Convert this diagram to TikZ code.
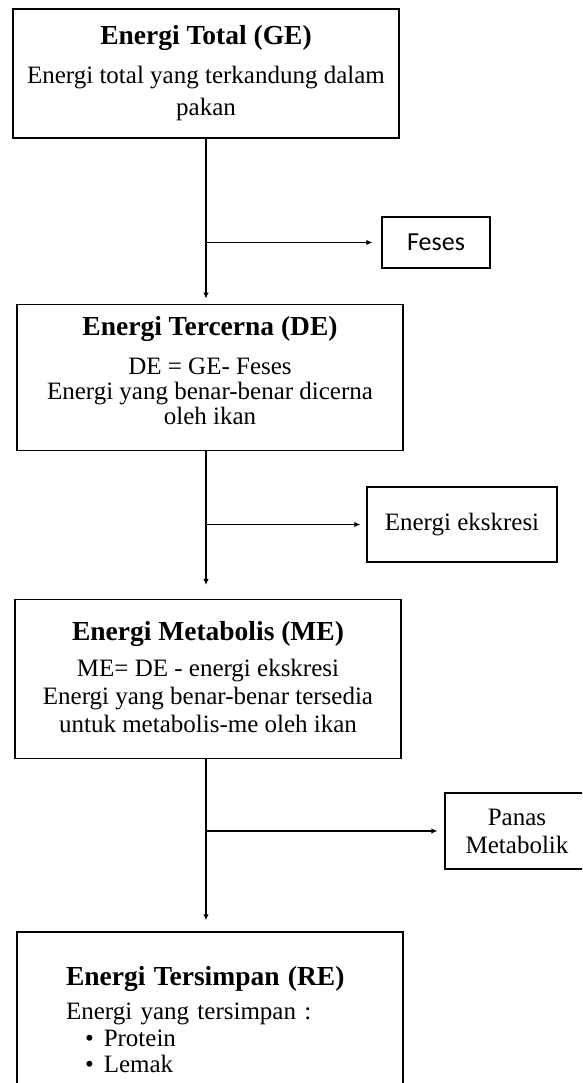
\documentclass[tikz,border=0pt]{standalone}
\usepackage{fontspec}
\setmainfont{Liberation Serif}
\newfontfamily\calibri{Carlito}
\usetikzlibrary{positioning,arrows.meta}

\tikzset{
  box/.style={rectangle, draw=black, line width=1.3pt, minimum width=386pt,
    align=center, font=\fontsize{25}{28}\selectfont},
  sidebox/.style={rectangle, draw=black, line width=1.3pt, align=center,
    font=\fontsize{25}{28}\selectfont},
  flow/.style={-{Latex[length=6pt,width=5.5pt]}, line width=1.4pt},
}
\newcommand{\boxtitle}[1]{{\bfseries\fontsize{27.5}{30}\selectfont #1}}

\begin{document}
\begin{tikzpicture}[x=1pt,y=1pt]
	\useasboundingbox (0,0) rectangle (582,-1083);
	\clip (0,0) rectangle (582,-1083);
	% main column
	\node[box, minimum height=129pt, font=\fontsize{25}{32}\selectfont] (GE) at (206,-73.5)
		{\boxtitle{Energi Total (GE)}\\[7pt] Energi total yang terkandung dalam\\ pakan};
	\node[box, minimum height=146pt, font=\fontsize{25}{25}\selectfont, text depth=14pt,
		below=165pt of GE, xshift=4pt] (DE)
		{\boxtitle{Energi Tercerna (DE)}\\[14pt] DE = GE- Feses\\ Energi yang benar-benar dicerna\\ oleh ikan};
	\node[box, minimum height=159pt, text depth=4pt, below=148pt of DE, xshift=-2pt] (ME)
		{\boxtitle{Energi Metabolis (ME)}\\[8pt] ME= DE - energi ekskresi\\ Energi yang benar-benar tersedia\\ untuk metabolis-me oleh ikan};
	\node[box, minimum height=176pt, text width=288pt, inner xsep=49pt, align=left,
		font=\fontsize{25}{26.5}\selectfont, below=172pt of ME, xshift=2pt] (RE)
		{\boxtitle{Energi Tersimpan (RE)}\\[7.5pt] Energi yang tersimpan :\\
		\hspace*{19pt}\textbullet\hspace{10pt}Protein\\
		\hspace*{19pt}\textbullet\hspace{10pt}Lemak};
	% losses
	\node[sidebox, minimum width=108pt, minimum height=51pt, font=\calibri\fontsize{26}{28}\selectfont] (FE) at (436,-242.5) {Feses};
	\node[sidebox, minimum width=190pt, minimum height=75pt] (EX) at (462,-524.5) {Energi ekskresi};
	\node[sidebox, minimum width=152pt, minimum height=76pt, text width=140pt] (PM) at (521,-831) {\hspace*{-8pt}Panas\\ \hspace*{-8pt}Metabolik};
	% arrows
	\draw[flow, shorten >=5pt] (GE.south) -- (GE.south |- DE.north);
	\draw[flow, shorten >=9pt] (GE.south |- FE.west) -- (FE.west);
	\draw[flow, shorten >=14pt] (DE.south -| GE.south) -- (GE.south |- ME.north);
	\draw[flow, shorten >=6pt] (GE.south |- EX.west) -- (EX.west);
	\draw[flow, shorten >=11pt] (ME.south -| GE.south) -- (GE.south |- RE.north);
	\draw[flow, shorten >=7pt] (GE.south |- PM.west) -- (PM.west);
\end{tikzpicture}
\end{document}
